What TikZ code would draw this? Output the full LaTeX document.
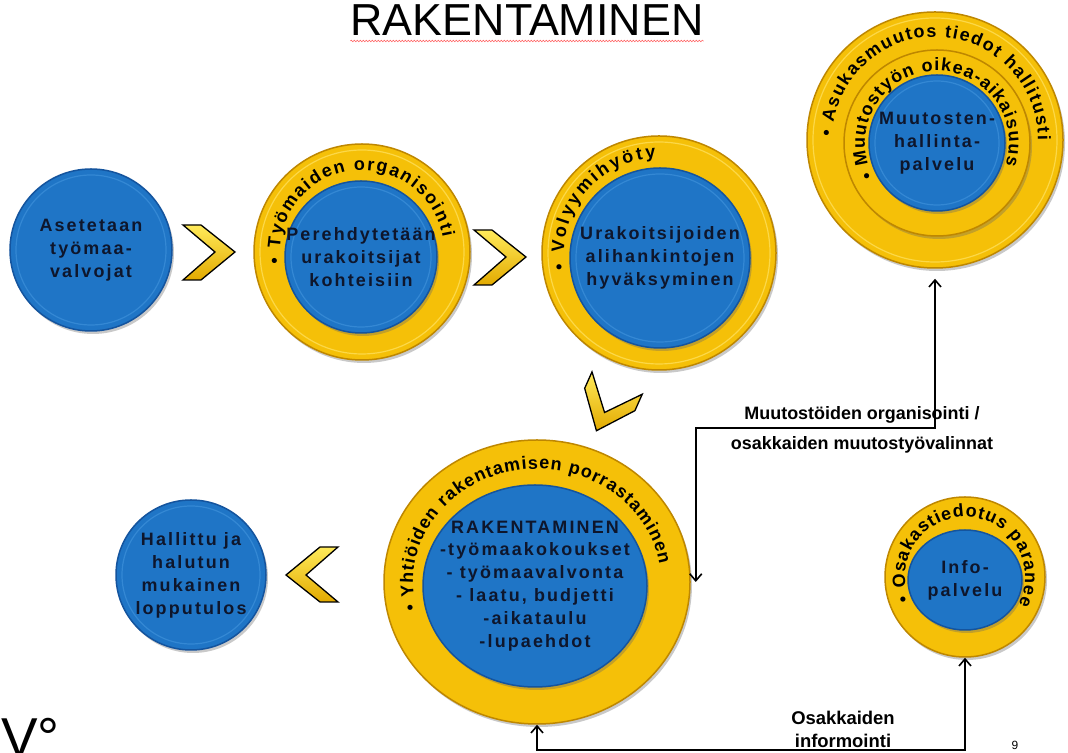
\documentclass[tikz,border=0pt]{standalone}
\usepackage{fontspec}
\setmainfont{Liberation Sans}
\newfontfamily\spacedfont[LetterSpace=12]{Liberation Sans}
\usetikzlibrary{positioning,shapes.geometric,decorations.text,decorations.pathmorphing,arrows.meta,shadows}

\definecolor{bluefill}{RGB}{31,117,198}
\definecolor{blueedge}{RGB}{20,84,158}
\definecolor{bluerim}{RGB}{52,136,212}
\definecolor{goldfill}{RGB}{245,192,8}
\definecolor{goldedge}{RGB}{190,135,0}
\definecolor{goldrim}{RGB}{252,216,72}
\definecolor{chevlight}{RGB}{255,234,90}
\definecolor{chevdark}{RGB}{226,170,0}
\definecolor{ink}{RGB}{14,22,44}

\newcommand\discfont{\spacedfont\bfseries\fontsize{18}{23}\selectfont}
\newcommand\ringfont{\bfseries\fontsize{18}{18}\selectfont}
\newcommand\labelfont{\bfseries\fontsize{18}{30}\selectfont}

\tikzset{
  softshadow/.style={drop shadow={shadow xshift=2bp, shadow yshift=-3bp, opacity=.35, fill=black!60}},
  bluedisc/.style={circle, inner sep=0pt, fill=bluefill, draw=blueedge, line width=1.5bp, softshadow},
  golddisc/.style={circle, inner sep=0pt, fill=goldfill, draw=goldedge, line width=1.5bp, softshadow},
  disctext/.style={inner sep=0pt, align=center, text=ink, font=\discfont},
  rim/.style={draw=#1, line width=1.2bp},
  ringtext/.style={decorate, decoration={text along path, text align=fit to path, text={|\ringfont|#1}}},
  conn/.style={line width=1.6bp, <->, >={Straight Barb[length=7bp,width=12bp]}},
  lbl/.style={font=\labelfont, align=center, inner sep=0pt},
  chev/.pic={
    \draw[draw=black, line width=1.3bp, top color=chevlight, bottom color=chevdark]
      (-26,27) -- (-8,27) -- (26,0) -- (-8,-28) -- (-26,-28) -- (6,0) -- cycle;
  }
}

\begin{document}
\begin{tikzpicture}[x=1bp, y=1bp]
  \path[use as bounding box, fill=white] (0,0) rectangle (1068,753);
  %% title
  \node[font=\fontsize{45}{45}\selectfont, inner sep=0pt, anchor=base] (title) at (527,717) {RAKENTAMINEN};
  \draw[red!60, line width=0.6bp, decorate, decoration={snake, amplitude=0.8bp, segment length=3bp}]
    ([yshift=-5bp]title.base west) -- ([yshift=-5bp]title.base east);
  %%
  % Node: valv
  \node[bluedisc, minimum size=162bp] (valv) at (91,503) {};
  \draw[rim=bluerim] (valv) circle[radius=75bp];
  \node[disctext] (valvt) at (valv) {Asetetaan\\työmaa-\\valvojat};
  \pic at (209,501) {chev};
  % Node: org
  \node[golddisc, minimum size=216bp] (org) at (362,501) {};
  \draw[rim=goldrim] (org) circle[radius=102bp];
  \node[bluedisc, minimum size=152bp] (orgin) at (361,496) {};
  \draw[rim=bluerim] (orgin) circle[radius=70bp];
  \node[disctext] (orgt) at (orgin) {Perehdytetään\\urakoitsijat\\kohteisiin};
  \path[ringtext={• Työmaiden organisointi}] (org) ++(188:82bp) arc[start angle=188, end angle=10, radius=82bp];
  \pic at (500,496) {chev};
  % Node: vol
  \node[golddisc, minimum size=234bp] (vol) at (659,500) {};
  \draw[rim=goldrim] (vol) circle[radius=111bp];
  \node[bluedisc, minimum size=180bp] (volin) at (660,495) {};
  \draw[rim=bluerim] (volin) circle[radius=84bp];
  \node[disctext] (volt) at (volin) {Urakoitsijoiden\\alihankintojen\\hyväksyminen};
  \path[ringtext={• Volyymihyöty}] (vol) ++(190:95bp) arc[start angle=190, end angle=92, radius=95bp];
  % Node: muut
  \node[golddisc, minimum size=256bp] (muut) at (935,613) {};
  \draw[rim=goldrim] (muut) circle[radius=122bp];
  \node[golddisc, minimum size=186bp] (muutmid) at (937,610) {};
  \node[bluedisc, minimum size=136bp] (muutin) at (937,610) {};
  \draw[rim=bluerim] (muutin) circle[radius=62bp];
  \node[disctext] (muutt) at (muutin) {Muutosten-\\hallinta-\\palvelu};
  \path[ringtext={• Asukasmuutos tiedot hallitusti}] (muut) ++(178:103bp) arc[start angle=178, end angle=0, radius=103bp];
  \path[ringtext={• Muutostyön oikea-aikaisuus}] (muutmid) ++(208:72bp) arc[start angle=208, end angle=-18, radius=72bp];
  \pic[rotate=246] at (607,346) {chev};
  % Node: rak
  \node[golddisc, ellipse, minimum width=306bp, minimum height=284bp] (rak) at (537,171) {};
  \node[bluedisc, ellipse, minimum width=224bp, minimum height=202bp] (rakin) at (535,167) {};
  \node[disctext] (rakt) at (rakin) {RAKENTAMINEN\\-työmaakokoukset\\- työmaavalvonta\\- laatu, budjetti\\-aikataulu\\-lupaehdot};
  \path[ringtext={• Yhtiöiden rakentamisen porrastaminen}] (rak) ++(194:124bp and 113bp) arc[start angle=194, end angle=9, x radius=124bp, y radius=113bp];
  \pic[rotate=180] at (312,178) {chev};
  % Node: tulos
  \node[bluedisc, minimum size=150bp] (tulos) at (191,178) {};
  \draw[rim=bluerim] (tulos) circle[radius=69bp];
  \node[disctext] (tulost) at (tulos) {Hallittu ja\\halutun\\mukainen\\lopputulos};
  % Node: info
  \node[golddisc, minimum size=160bp] (info) at (965,176) {};
  \node[bluedisc, ellipse, minimum width=114bp, minimum height=100bp] (infoin) at (965,173) {};
  \node[disctext] (infot) at (infoin) {Info-\\palvelu};
  \path[ringtext={• Osakastiedotus paranee}] (info) ++(203:60bp) arc[start angle=203, end angle=-27, radius=60bp];
  %% labels
  \node[lbl] (lmuut) at (862,323) {Muutostöiden organisointi /\\osakkaiden muutostyövalinnat};
  \node[lbl, font=\bfseries\fontsize{18.5}{23}\selectfont] (linfo) at (843,24) {Osakkaiden\\informointi};
  \node[font=\fontsize{12}{12}\selectfont, inner sep=0pt] (pnum) at (1015,8) {9};
  \node[font=\fontsize{55}{55}\selectfont, inner sep=0pt, anchor=base west] (vfrag) at (1,-4) {V°};
  % Edge: rak -> muut
  \coordinate (rakr) at ([xshift=5bp]rak.east);
  \coordinate (mtop) at (800,325);
  \draw[conn, shorten >=10bp] (rakr) -- (rakr |- mtop) -| (muut.south);
  % Edge: rak -> info
  \coordinate (mbot) at (750,3);
  \draw[conn] (rak.south) -- (rak.south |- mbot) -| (info.south);
\end{tikzpicture}
\end{document}
